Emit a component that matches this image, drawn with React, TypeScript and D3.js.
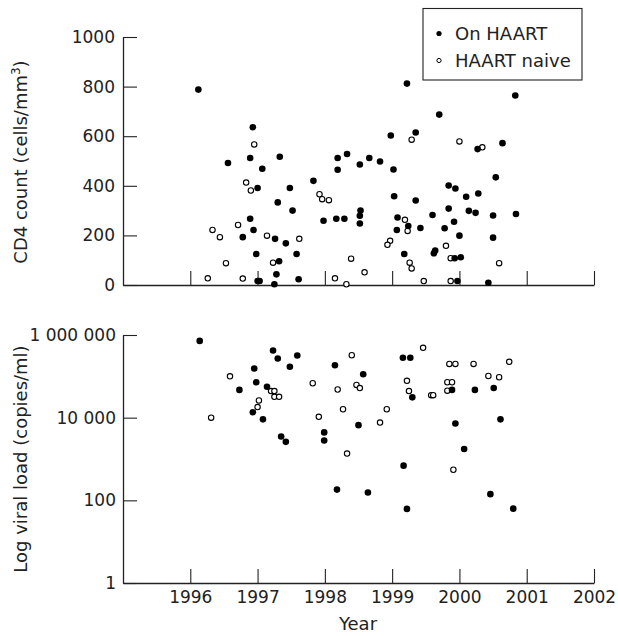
import React from "react";
import * as d3 from "d3";

// CD4 count (cells/mm3) by year
const cd4OnHaart: [number, number][] = [
  [1996.12, 788], [1996.93, 636], [1996.56, 492], [1996.89, 512], [1997.33, 517],
  [1997.07, 469], [1997.0, 391], [1997.48, 391], [1997.3, 333], [1997.52, 300],
  [1996.89, 267], [1996.94, 222], [1996.78, 193], [1997.26, 186], [1997.42, 168],
  [1996.98, 125], [1997.58, 125], [1997.32, 96], [1997.28, 43], [1997.25, 3],
  [1997.0, 16], [1997.03, 16], [1997.61, 23], [1997.98, 259], [1998.17, 267],
  [1998.29, 267], [1998.52, 248], [1998.52, 279], [1998.53, 300], [1999.07, 222],
  [1999.08, 272], [1999.03, 358], [1999.02, 466], [1998.98, 603], [1997.83, 420],
  [1998.19, 512], [1998.19, 465], [1998.33, 528], [1998.52, 486], [1998.66, 512],
  [1998.82, 498], [1999.22, 812], [2000.83, 764], [1999.7, 687], [1999.35, 615],
  [2000.27, 548], [2000.64, 572], [2000.54, 434], [1999.84, 401], [1999.94, 389],
  [1999.35, 341], [2000.1, 356], [2000.28, 369], [1999.84, 308], [2000.14, 299],
  [2000.24, 291], [1999.6, 282], [2000.5, 280], [2000.84, 286], [1999.24, 238],
  [1999.42, 230], [1999.92, 255], [1999.78, 229], [2000.0, 199], [2000.5, 191],
  [1999.64, 139], [1999.62, 128], [1999.18, 125], [1999.93, 108], [2000.02, 112],
  [1999.97, 16], [2000.43, 9],
];
const cd4Naive: [number, number][] = [
  [1996.95, 567], [1996.83, 413], [1996.9, 381], [1996.33, 222], [1996.44, 193],
  [1996.71, 242], [1997.14, 199], [1997.62, 186], [1996.53, 88], [1997.23, 90],
  [1996.26, 27], [1996.78, 26], [1998.15, 27], [1998.32, 3], [1998.59, 51],
  [1998.39, 106], [1998.97, 178], [1998.93, 162], [1997.92, 366], [1997.96, 346],
  [1998.06, 342], [1999.29, 586], [2000.0, 579], [2000.34, 555], [1999.19, 263],
  [1999.23, 218], [1999.8, 158], [1999.87, 108], [1999.26, 90], [1999.29, 67],
  [2000.59, 88], [1999.47, 16], [1999.87, 16],
];

// viral load (copies/ml) by year
const vlOnHaart: [number, number][] = [
  [1996.14, 720000], [1997.23, 420000], [1997.3, 270000], [1997.59, 320000],
  [1997.48, 170000], [1996.95, 155000], [1996.98, 72000], [1996.73, 47000],
  [1997.14, 56000], [1996.93, 13500], [1997.08, 9100], [1997.35, 3500],
  [1997.42, 2600], [1997.99, 4400], [1997.99, 2800], [1998.15, 186000],
  [1998.18, 182], [1998.57, 112000], [1998.5, 6600], [1998.64, 155],
  [1999.16, 282000], [1999.27, 282000], [1999.3, 31000], [1999.89, 47000],
  [2000.23, 47000], [2000.51, 52000], [1999.94, 7200], [2000.61, 9100],
  [2000.07, 1740], [1999.17, 690], [2000.46, 141], [1999.22, 62], [2000.8, 63],
];
const vlNaive: [number, number][] = [
  [1996.59, 100000], [1997.2, 44000], [1997.25, 44000], [1997.25, 32000],
  [1997.32, 32000], [1997.02, 26000], [1997.0, 18000], [1996.31, 10000],
  [1997.82, 68000], [1997.91, 10500], [1998.4, 324000], [1998.19, 48000],
  [1998.27, 16000], [1998.33, 1350], [1998.47, 62000], [1998.52, 52000],
  [1998.92, 16000], [1998.82, 7600], [1999.46, 490000], [1999.85, 200000],
  [1999.94, 200000], [2000.21, 200000], [2000.74, 224000], [1999.22, 78000],
  [2000.43, 102000], [2000.59, 95000], [1999.82, 72000], [1999.89, 72000],
  [1999.25, 44000], [1999.58, 35000], [1999.61, 35000], [1999.82, 45000],
  [1999.91, 550],
];

const yearTicks = [1996, 1997, 1998, 1999, 2000, 2001, 2002];
const cd4Ticks = [0, 200, 400, 600, 800, 1000];
const vlTicks = [1, 100, 10000, 1000000];
const vlTickLabels = ["1", "100", "10 000", "1 000 000"];
const legendLabels = ["On HAART", "HAART naive"];

const W = 618;
const H = 636;
const FONT = "'DejaVu Sans', sans-serif";
const INK = "#222";

export default function App() {
  const ref = React.useRef<SVGSVGElement>(null);

  React.useEffect(() => {
    const svg = d3.select(ref.current);
    svg.selectAll("*").remove();

    const x = d3.scaleLinear().domain([1995, 2002]).range([123, 594]);
    const yCd4 = d3.scaleLinear().domain([0, 1000]).range([285, 37]);
    const yVl = d3.scaleLog().domain([1, 1e6]).range([583, 335]);

    const styleAxis = (g: any) => {
      g.attr("font-family", FONT).attr("font-size", 17);
      g.selectAll("path").attr("stroke", INK).attr("stroke-width", 1.3);
      g.selectAll("line").attr("stroke", INK).attr("stroke-width", 1.1);
      g.selectAll("text").attr("fill", INK);
    };

    // top panel axes
    svg.append("g")
      .attr("transform", "translate(123,0)")
      .call(d3.axisLeft(yCd4).tickValues(cd4Ticks).tickSize(-14).tickSizeOuter(0).tickPadding(8).tickFormat(d3.format("d")))
      .call(styleAxis);
    svg.append("g")
      .attr("transform", "translate(0,285)")
      .call(d3.axisBottom(x).tickValues(yearTicks).tickSize(-14).tickSizeOuter(0).tickFormat(() => ""))
      .call(styleAxis);

    // bottom panel axes
    svg.append("g")
      .attr("transform", "translate(123,0)")
      .call(d3.axisLeft(yVl).tickValues(vlTicks).tickSize(-14).tickSizeOuter(0).tickPadding(7)
        .tickFormat((d, i) => vlTickLabels[i]))
      .call(styleAxis);
    svg.append("g")
      .attr("transform", "translate(0,583)")
      .call(d3.axisBottom(x).tickValues(yearTicks).tickSize(-14).tickSizeOuter(0).tickFormat(d3.format("d")))
      .call(styleAxis)
      .selectAll("text")
      .attr("y", 8);

    // axis titles
    const cd4Title = svg.append("text")
      .attr("transform", "translate(27,162) rotate(-90)")
      .attr("text-anchor", "middle")
      .attr("font-family", FONT)
      .attr("font-size", 18)
      .attr("fill", INK);
    cd4Title.append("tspan").text("CD4 count (cells/mm");
    cd4Title.append("tspan").attr("dy", -7).attr("font-size", 12).text("3");
    cd4Title.append("tspan").attr("dy", 7).text(")");

    svg.append("text")
      .attr("transform", "translate(27,459) rotate(-90)")
      .attr("text-anchor", "middle")
      .attr("font-family", FONT)
      .attr("font-size", 18)
      .attr("fill", INK)
      .text("Log viral load (copies/ml)");

    svg.append("text")
      .attr("x", 358)
      .attr("y", 630)
      .attr("text-anchor", "middle")
      .attr("font-family", FONT)
      .attr("font-size", 18)
      .attr("fill", INK)
      .text("Year");

    // points
    const drawPoints = (data: [number, number][], y: any, filled: boolean) => {
      svg.append("g")
        .selectAll("circle")
        .data(data)
        .enter()
        .append("circle")
        .attr("cx", (d) => x(d[0]))
        .attr("cy", (d) => y(d[1]))
        .attr("r", filled ? 3.3 : 2.7)
        .attr("fill", filled ? "#000" : "#fff")
        .attr("stroke", "#000")
        .attr("stroke-width", filled ? 0 : 1.1);
    };
    drawPoints(cd4Naive, yCd4, false);
    drawPoints(cd4OnHaart, yCd4, true);
    drawPoints(vlNaive, yVl, false);
    drawPoints(vlOnHaart, yVl, true);

    // legend
    const legend = svg.append("g").attr("id", "legend");
    legend.append("rect")
      .attr("x", 423)
      .attr("y", 8.5)
      .attr("width", 159)
      .attr("height", 71.5)
      .attr("fill", "#fff")
      .attr("stroke", INK)
      .attr("stroke-width", 1.1);
    const item = legend.selectAll("g.item")
      .data(legendLabels)
      .enter()
      .append("g")
      .attr("transform", (d, i) => `translate(439,${33.5 + i * 27})`);
    item.append("circle")
      .attr("r", (d, i) => (i === 0 ? 2.6 : 2.1))
      .attr("fill", (d, i) => (i === 0 ? "#000" : "#fff"))
      .attr("stroke", "#000")
      .attr("stroke-width", (d, i) => (i === 0 ? 0 : 1));
    item.append("text")
      .attr("x", 16)
      .attr("y", 6.5)
      .attr("font-family", FONT)
      .attr("font-size", 18)
      .attr("fill", INK)
      .text((d) => d);
  }, []);

  return (
    <svg
      ref={ref}
      width={W}
      height={H}
      style={{ position: "absolute", left: 0, top: 0, background: "#fff" }}
    />
  );
}
